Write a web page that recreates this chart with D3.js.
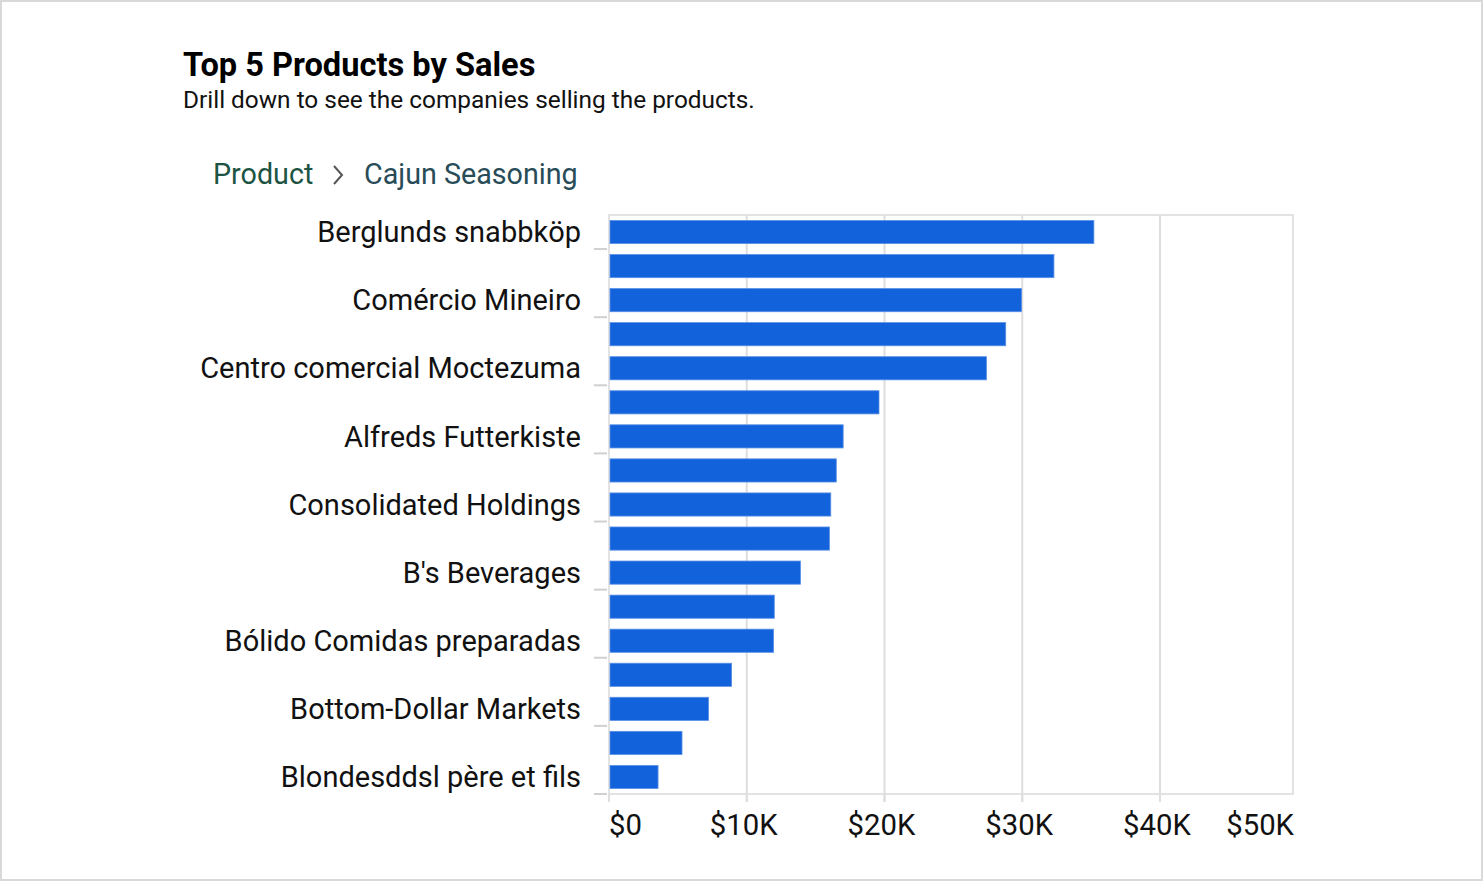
<!DOCTYPE html>
<html>
<head>
<meta charset="utf-8">
<script src="https://cdn.jsdelivr.net/npm/d3@7"></script>
<style>
  html, body { margin: 0; padding: 0; background: #fff; }
  body { width: 1484px; height: 882px; overflow: hidden; }
  svg { display: block; font-family: Roboto, "Noto Sans", sans-serif; }
</style>
</head>
<body>
<svg id="chart" width="1484" height="882"></svg>
<script>
const title = "Top 5 Products by Sales";
const subtitle = "Drill down to see the companies selling the products.";
const breadcrumb = ["Product", "Cajun Seasoning"];

const companies = [
  "Berglunds snabbköp", "Ernst Handel", "Comércio Mineiro", "QUICK-Stop",
  "Centro comercial Moctezuma", "Save-a-lot Markets", "Alfreds Futterkiste", "Hungry Owl All-Night Grocers",
  "Consolidated Holdings", "Rattlesnake Canyon Grocery", "B's Beverages", "Folk och fä HB",
  "Bólido Comidas preparadas", "Frankenversand", "Bottom-Dollar Markets", "Around the Horn",
  "Blondesddsl père et fils"
];
const sales = [
  35200, 32300, 29950, 28800,
  27400, 19600, 17000, 16500,
  16100, 16000, 13900, 12000,
  11950, 8900, 7230, 5300,
  3560
];
const xTicks = [0, 10000, 20000, 30000, 40000, 50000];
const xTickLabels = ["$0", "$10K", "$20K", "$30K", "$40K", "$50K"];

const data = companies.map((c, i) => ({ company: c, value: sales[i] }));

const svg = d3.select("#chart");

// outer frame
svg.append("rect").attr("x", 1).attr("y", 1).attr("width", 1481).attr("height", 879)
  .attr("fill", "#fff").attr("stroke", "#d9d9d9").attr("stroke-width", 2);

// titles
svg.append("text").attr("x", 183).attr("y", 76).text(title)
  .attr("font-size", 32.6).attr("font-weight", 700).attr("fill", "#000");
svg.append("text").attr("x", 183).attr("y", 108).text(subtitle)
  .attr("font-size", 24.4).attr("fill", "#111");

// breadcrumb
const bc = svg.append("g").attr("font-size", 28.7);
bc.append("text").attr("x", 213).attr("y", 184).text(breadcrumb[0]).attr("fill", "#1d5444");
bc.append("path").attr("d", "M334,166 L342,175 L334,184").attr("fill", "none")
  .attr("stroke", "#555").attr("stroke-width", 2);
bc.append("text").attr("x", 364).attr("y", 184).text(breadcrumb[1]).attr("fill", "#284c58");

// scales
const pLeft = 609, pRight = 1293, pTop = 215, pBottom = 794;
const x = d3.scaleLinear().domain([0, 50000]).range([pLeft, pLeft + (1160 - pLeft) * 1.25]);
const y = d3.scaleBand().domain(companies).range([pTop, pBottom]).paddingInner(0.32).paddingOuter(0.16);

// plot frame
svg.append("rect").attr("x", pLeft).attr("y", pTop).attr("width", pRight - pLeft).attr("height", pBottom - pTop)
  .attr("fill", "none").attr("stroke", "#e3e3e3").attr("stroke-width", 2);

// gridlines
svg.append("g").selectAll("line").data(xTicks.filter(t => t > 0 && x(t) < pRight - 2)).join("line")
  .attr("x1", d => x(d)).attr("x2", d => x(d)).attr("y1", pTop).attr("y2", pBottom + 8)
  .attr("stroke", "#dedede").attr("stroke-width", 2);

// bars
svg.append("g").selectAll("rect").data(data).join("rect")
  .attr("x", x(0) + 1).attr("y", d => y(d.company))
  .attr("width", d => x(d.value) - x(0) - 1).attr("height", y.bandwidth())
  .attr("fill", "#1262dc").attr("stroke", "#5a90e6").attr("stroke-width", 0.8);

// y ticks & labels (every other category)
const step = y.step();
const shown = companies.filter((c, i) => i % 2 === 0);
const yg = svg.append("g");
yg.selectAll("line").data(shown).join("line")
  .attr("x1", pLeft - 15).attr("x2", pLeft - 2)
  .attr("y1", d => y(d) - y.paddingInner() * step / 2 + step)
  .attr("y2", d => y(d) - y.paddingInner() * step / 2 + step)
  .attr("stroke", "#d0d0d0").attr("stroke-width", 2);
yg.selectAll("text").data(shown).join("text")
  .attr("x", 581).attr("y", d => y(d) + y.bandwidth() / 2)
  .attr("dy", "0.35em").attr("text-anchor", "end")
  .attr("font-size", 29).attr("fill", "#111").text(d => d);

// x axis ticks and labels
const xg = svg.append("g");
xg.selectAll("line").data(xTicks.filter(t => x(t) < pRight - 2)).join("line")
  .attr("x1", d => x(d)).attr("x2", d => x(d)).attr("y1", pBottom).attr("y2", pBottom + 8)
  .attr("stroke", "#dedede").attr("stroke-width", 2);
xg.selectAll("text").data(xTicks).join("text")
  .attr("x", (d, i) => i === 0 ? x(d) : (i === xTicks.length - 1 ? pRight + 1 : x(d) - 3))
  .attr("y", 835)
  .attr("text-anchor", (d, i) => i === 0 ? "start" : (i === xTicks.length - 1 ? "end" : "middle"))
  .attr("font-size", 29.3).attr("fill", "#111")
  .text((d, i) => xTickLabels[i]);
</script>
</body>
</html>
